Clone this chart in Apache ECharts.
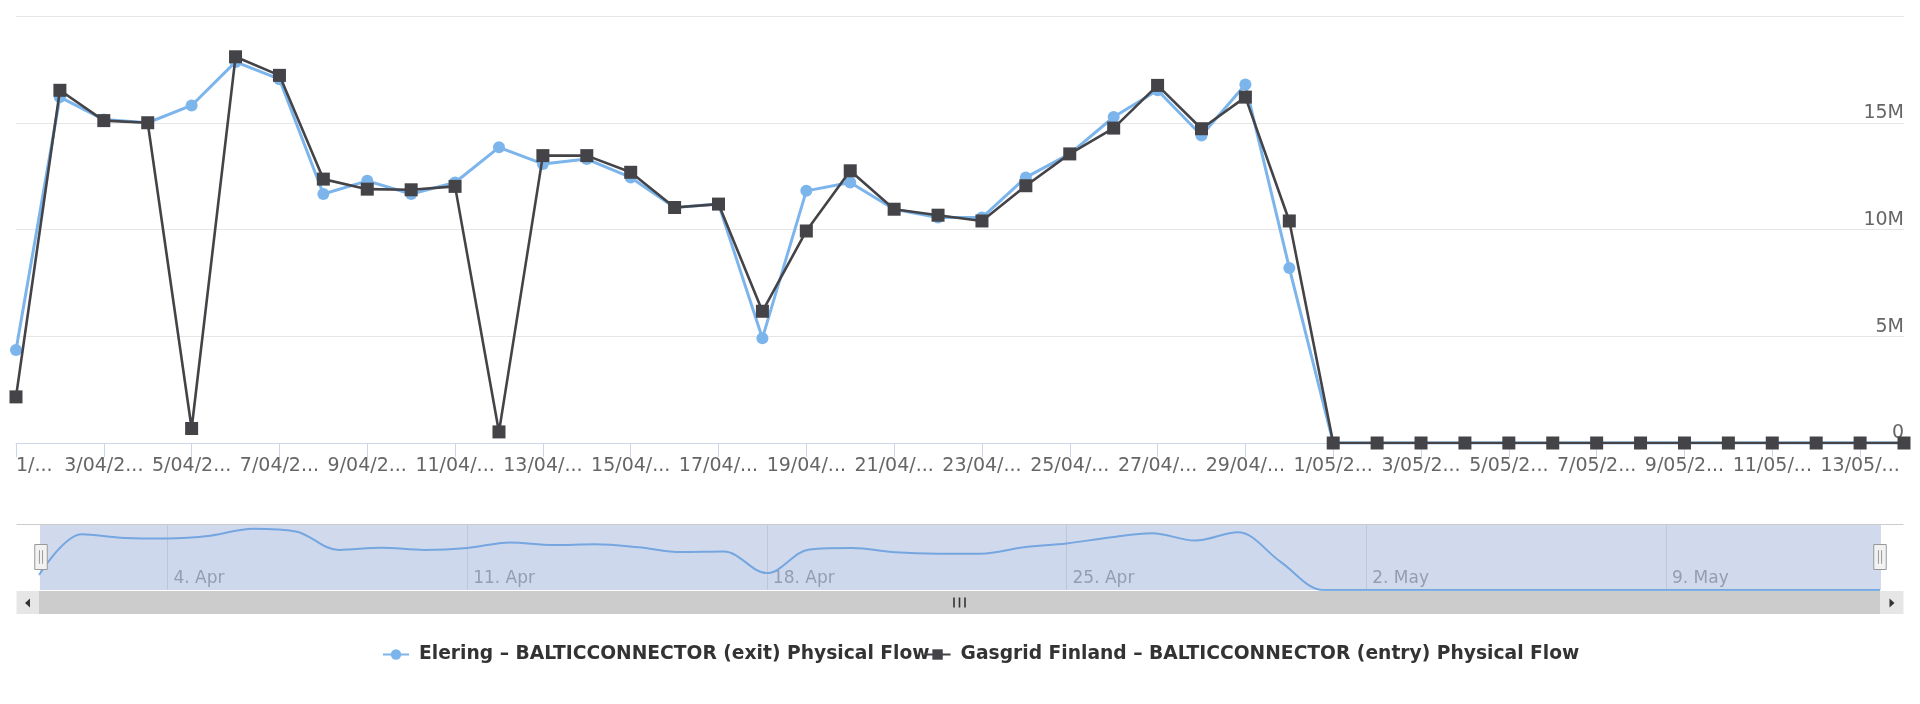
<!DOCTYPE html>
<html>
<head>
<meta charset="utf-8">
<script src="https://cdn.jsdelivr.net/npm/echarts@6/dist/echarts.min.js"></script>
<style>
html,body{margin:0;padding:0;background:#ffffff;}
#chart{width:1920px;height:704px;}
</style>
</head>
<body>
<div id="chart"></div>
<script>
// ---- data (values in millions) ----
const dates = [
  '1/04/2022','2/04/2022','3/04/2022','4/04/2022','5/04/2022','6/04/2022','7/04/2022','8/04/2022','9/04/2022','10/04/2022',
  '11/04/2022','12/04/2022','13/04/2022','14/04/2022','15/04/2022','16/04/2022','17/04/2022','18/04/2022','19/04/2022','20/04/2022',
  '21/04/2022','22/04/2022','23/04/2022','24/04/2022','25/04/2022','26/04/2022','27/04/2022','28/04/2022','29/04/2022','30/04/2022',
  '1/05/2022','2/05/2022','3/05/2022','4/05/2022','5/05/2022','6/05/2022','7/05/2022','8/05/2022','9/05/2022','10/05/2022',
  '11/05/2022','12/05/2022','13/05/2022','14/05/2022'
];
const eleringFlow = [
  4.36, 16.2, 15.15, 15.0, 15.81, 17.85, 17.04, 11.66, 12.28, 11.66,
  12.2, 13.85, 13.07, 13.3, 12.44, 11.03, 11.19, 4.91, 11.81, 12.2,
  10.95, 10.56, 10.56, 12.44, 13.54, 15.27, 16.52, 14.4, 16.79, 8.2,
  0, 0, 0, 0, 0, 0, 0, 0, 0, 0,
  0, 0, 0, 0
];
const gasgridFlow = [
  2.16, 16.52, 15.1, 15.0, 0.68, 18.09, 17.22, 12.36, 11.89, 11.86,
  12.02, 0.52, 13.46, 13.46, 12.68, 11.03, 11.19, 6.17, 9.93, 12.75,
  10.95, 10.67, 10.4, 12.05, 13.54, 14.75, 16.75, 14.72, 16.2, 10.4,
  0, 0, 0, 0, 0, 0, 0, 0, 0, 0,
  0, 0, 0, 0
];
const seriesNames = [
  'Elering – BALTICCONNECTOR (exit) Physical Flow',
  'Gasgrid Finland – BALTICCONNECTOR (entry) Physical Flow'
];
const monthNames = ['Jan','Feb','Mar','Apr','May','Jun','Jul','Aug','Sep','Oct','Nov','Dec'];
const yMin = 0, yMax = 20, yStep = 5;
const navYMax = 19.2;

// ---- chart ----
const FONT = 'DejaVu Sans';
const chart = echarts.init(document.getElementById('chart'), null, {renderer: 'canvas'});
const weekly = (i) => i % 7 === 3;

const option = {
  animation: false,
  backgroundColor: '#ffffff',
  grid: [
    {left: 16, right: 16, top: 16, bottom: 261},
    {left: 39, right: 40, top: 524, height: 66}
  ],
  xAxis: [
    {
      type: 'category', gridIndex: 0, data: dates, boundaryGap: false,
      axisLine: {lineStyle: {color: '#ccd6eb', width: 1}},
      axisTick: {interval: 1, length: 14, lineStyle: {color: '#ccd6eb', width: 1}},
      axisLabel: {
        interval: 1, color: '#666666', fontFamily: FONT, fontSize: 19, margin: 14,
        overflow: 'truncate', width: 86, ellipsis: '...', alignMinLabel: 'left',
        formatter: (v, i) => i === 0 ? v.slice(0, 2) + '...' : v
      },
      splitLine: {show: false}
    },
    {
      type: 'category', gridIndex: 1, data: dates, boundaryGap: false,
      axisLine: {show: false}, axisTick: {show: false},
      axisLabel: {
        inside: true, interval: weekly, align: 'left', padding: [0, 0, 0, 6], margin: 3,
        color: '#aaaaaa', fontFamily: FONT, fontSize: 17,
        formatter: (v) => { const p = v.split('/'); return (+p[0]) + '. ' + monthNames[+p[1] - 1]; }
      },
      splitLine: {show: true, interval: weekly, lineStyle: {color: '#e6e6e6', width: 1}}
    }
  ],
  yAxis: [
    {
      type: 'value', gridIndex: 0, position: 'right', min: yMin, max: yMax, interval: yStep,
      axisLine: {show: false}, axisTick: {show: false},
      axisLabel: {
        inside: true, margin: 0, verticalAlign: 'bottom', showMaxLabel: false,
        color: '#666666', fontFamily: FONT, fontSize: 19,
        formatter: (v) => v === 0 ? '0' : v + 'M'
      },
      splitLine: {lineStyle: {color: '#e6e6e6', width: 1}}
    },
    {type: 'value', gridIndex: 1, min: 0, max: navYMax, show: false}
  ],
  legend: {
    data: seriesNames, left: 377, top: 640, itemWidth: 26, itemHeight: 13, itemGap: -6,
    textStyle: {fontFamily: FONT, fontWeight: 'bold', fontSize: 18.7, color: '#333333', padding: [0, 0, 0, 5]}
  },
  dataZoom: [{
    type: 'slider', xAxisIndex: 0, filterMode: 'none', start: 0, end: 100,
    left: 39, right: 40, top: 524, height: 66,
    backgroundColor: 'rgba(0,0,0,0)', borderColor: 'rgba(0,0,0,0)',
    fillerColor: 'rgba(102,133,194,0.3)',
    showDataShadow: false, showDetail: false, brushSelect: false, moveHandleSize: 0,
    handleIcon: 'path://M0.5,0.5H12.5V24.5H0.5Z M5,6V19 M8,6V19',
    handleSize: 25,
    handleStyle: {color: '#f2f2f2', borderColor: '#999999', borderWidth: 1},
    z: 4
  }],
  graphic: [
    {type: 'line', silent: true, z: 10, shape: {x1: 16.5, y1: 524.5, x2: 1903.5, y2: 524.5}, style: {stroke: '#cccccc', lineWidth: 1}},
    {type: 'rect', silent: true, shape: {x: 16.5, y: 591, width: 22.5, height: 23}, style: {fill: '#e6e6e6'}},
    {type: 'rect', silent: true, shape: {x: 39, y: 591, width: 1841, height: 23}, style: {fill: '#cccccc'}},
    {type: 'rect', silent: true, shape: {x: 1880, y: 591, width: 23.5, height: 23}, style: {fill: '#e6e6e6'}},
    {type: 'polygon', silent: true, shape: {points: [[30, 598.5], [30, 607.5], [25, 603]]}, style: {fill: '#333333'}},
    {type: 'polygon', silent: true, shape: {points: [[1889.5, 598.5], [1889.5, 607.5], [1894.5, 603]]}, style: {fill: '#333333'}},
    {type: 'line', silent: true, shape: {x1: 954, y1: 597.5, x2: 954, y2: 607.5}, style: {stroke: '#333333', lineWidth: 1.6}},
    {type: 'line', silent: true, shape: {x1: 959.5, y1: 597.5, x2: 959.5, y2: 607.5}, style: {stroke: '#333333', lineWidth: 1.6}},
    {type: 'line', silent: true, shape: {x1: 965, y1: 597.5, x2: 965, y2: 607.5}, style: {stroke: '#333333', lineWidth: 1.6}}
  ],
  series: [
    {
      name: seriesNames[0], type: 'line', xAxisIndex: 0, yAxisIndex: 0, data: eleringFlow,
      symbol: 'circle', symbolSize: 12, showAllSymbol: true,
      lineStyle: {color: '#7cb5ec', width: 3}, itemStyle: {color: '#7cb5ec'}, z: 2
    },
    {
      name: seriesNames[1], type: 'line', xAxisIndex: 0, yAxisIndex: 0, data: gasgridFlow,
      symbol: 'rect', symbolSize: 13, showAllSymbol: true,
      lineStyle: {color: '#434348', width: 2.6}, itemStyle: {color: '#434348'}, z: 3
    },
    {
      type: 'line', xAxisIndex: 1, yAxisIndex: 1, data: eleringFlow, smooth: 0.35, symbol: 'none',
      lineStyle: {color: '#7cb5ec', width: 2}, areaStyle: {color: 'rgba(124,181,236,0.05)'},
      silent: true, z: 2
    }
  ]
};
chart.setOption(option);
</script>
</body>
</html>
